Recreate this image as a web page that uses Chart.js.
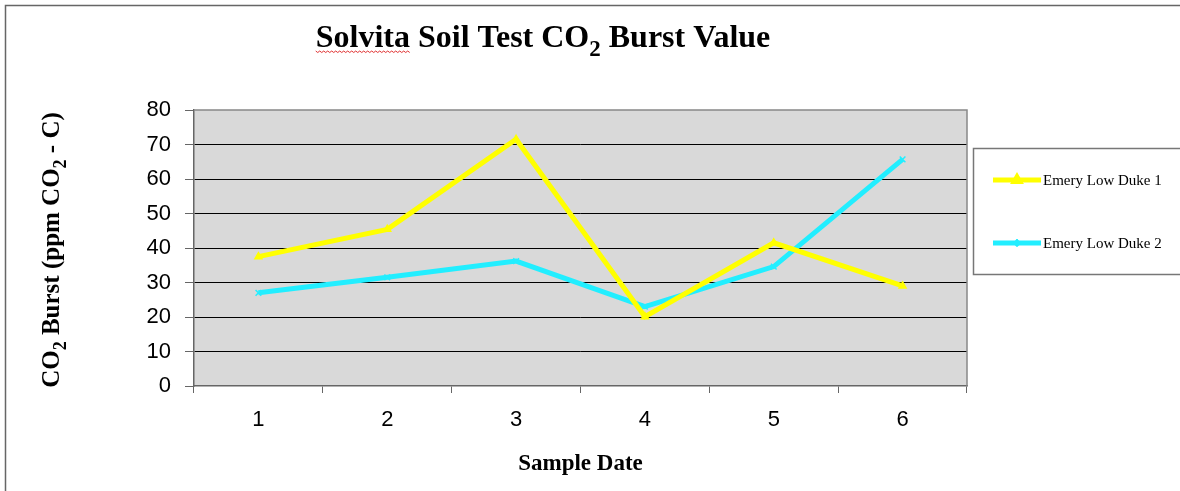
<!DOCTYPE html>
<html>
<head>
<meta charset="utf-8">
<script src="https://cdn.jsdelivr.net/npm/chart.js@4/dist/chart.umd.min.js"></script>
<style>
html,body{margin:0;padding:0;background:#fff;}
#wrap{position:relative;width:1180px;height:491px;}
</style>
</head>
<body>
<div id="wrap"><canvas id="c" width="1180" height="491"></canvas></div>
<script>
const categories = ['1', '2', '3', '4', '5', '6'];
const duke1 = [37.5, 45.4, 71.5, 20.1, 41.5, 29.0];
const duke2 = [27.0, 31.5, 36.2, 23.0, 34.6, 65.7];
const yTicks = [0, 10, 20, 30, 40, 50, 60, 70, 80];
const seriesNames = ['Emery Low Duke 1', 'Emery Low Duke 2'];
const titleParts = [['Solvita Soil Test CO', false], ['2', true], [' Burst Value', false]];
const yTitleParts = [['CO', false], ['2', true], [' Burst (ppm CO', false], ['2', true], [' - C)', false]];
const xTitle = 'Sample Date';

const SERIF = '"Liberation Serif", "Times New Roman", serif';
const SANS = '"Liberation Sans", Arial, sans-serif';
const YELLOW = '#ffff00';
const CYAN = '#22eeff';

function richWidth(ctx, parts, size) {
  let w = 0;
  for (const [t, sub] of parts) {
    ctx.font = 'bold ' + (sub ? Math.round(size * 0.72) : size) + 'px ' + SERIF;
    w += ctx.measureText(t).width;
  }
  return w;
}
function drawRich(ctx, parts, size, x, y) {
  let cx = x;
  for (const [t, sub] of parts) {
    ctx.font = 'bold ' + (sub ? Math.round(size * 0.72) : size) + 'px ' + SERIF;
    ctx.fillText(t, cx, sub ? y + size * 0.28 : y);
    cx += ctx.measureText(t).width;
  }
}

const decor = {
  id: 'decor',
  beforeDraw(chart) {
    const ctx = chart.ctx;
    const a = chart.chartArea;
    ctx.save();
    ctx.fillStyle = '#fff';
    ctx.fillRect(0, 0, chart.width, chart.height);
    ctx.strokeStyle = '#666';
    ctx.lineWidth = 1.5;
    ctx.strokeRect(5.5, 5.5, chart.width + 20, chart.height + 20);
    ctx.fillStyle = '#d9d9d9';
    ctx.fillRect(a.left, a.top, a.right - a.left, a.bottom - a.top);
    ctx.restore();
  },
  afterDraw(chart) {
    const ctx = chart.ctx;
    const a = chart.chartArea;
    ctx.save();
    ctx.fillStyle = '#000';
    ctx.textBaseline = 'alphabetic';
    ctx.textAlign = 'left';
    // title
    const ts = 32;
    const tw = richWidth(ctx, titleParts, ts);
    const tx = 543 - tw / 2;
    drawRich(ctx, titleParts, ts, tx, 47);
    ctx.font = 'bold ' + ts + 'px ' + SERIF;
    const sw = ctx.measureText('Solvita').width;
    ctx.strokeStyle = '#e03030';
    ctx.lineWidth = 1;
    ctx.beginPath();
    for (let x = 0; x <= sw; x += 2) {
      const y = 51 + ((x / 2) % 2 === 0 ? 0 : 1.5);
      if (x === 0) ctx.moveTo(tx + x, y); else ctx.lineTo(tx + x, y);
    }
    ctx.stroke();
    // y title
    const ys = 25;
    const yw = richWidth(ctx, yTitleParts, ys);
    ctx.save();
    ctx.translate(59, 250);
    ctx.rotate(-Math.PI / 2);
    drawRich(ctx, yTitleParts, ys, -yw / 2, 0);
    ctx.restore();
    // x title
    ctx.font = 'bold 23px ' + SERIF;
    ctx.textAlign = 'center';
    ctx.fillText(xTitle, (a.left + a.right) / 2, 470);
    // plot border
    ctx.strokeStyle = '#888';
    ctx.lineWidth = 1.5;
    ctx.beginPath();
    ctx.moveTo(a.left, a.top);
    ctx.lineTo(a.right, a.top);
    ctx.lineTo(a.right, a.bottom);
    ctx.stroke();
    // legend
    ctx.strokeStyle = '#777';
    ctx.lineWidth = 1.5;
    ctx.strokeRect(973.5, 148.5, 260, 126);
    const ys2 = [180, 243];
    chart.data.datasets.forEach((ds, i) => {
      const y = ys2[i];
      ctx.strokeStyle = ds.borderColor;
      ctx.lineWidth = 5;
      ctx.lineCap = 'butt';
      ctx.beginPath();
      ctx.moveTo(993, y);
      ctx.lineTo(1041, y);
      ctx.stroke();
      ctx.fillStyle = ds.borderColor;
      Chart.helpers.drawPoint(ctx, {pointStyle: ds.pointStyle, radius: 3, borderWidth: 1}, 1017, y);
      ctx.fillStyle = '#000';
      ctx.font = '15px ' + SERIF;
      ctx.textAlign = 'left';
      ctx.textBaseline = 'middle';
      ctx.fillText(ds.label, 1043, y + 1);
    });
    ctx.restore();
  }
};

new Chart(document.getElementById('c'), {
  type: 'line',
  data: {
    labels: categories,
    datasets: [
      { label: seriesNames[0], data: duke1, borderColor: YELLOW, backgroundColor: YELLOW,
        borderWidth: 5, pointStyle: 'triangle', pointRadius: 4, pointBorderWidth: 1.5,
        pointBackgroundColor: YELLOW, pointBorderColor: YELLOW, tension: 0 },
      { label: seriesNames[1], data: duke2, borderColor: CYAN, backgroundColor: CYAN,
        borderWidth: 5, pointStyle: 'crossRot', pointRadius: 4, pointBorderWidth: 1.5,
        pointBackgroundColor: CYAN, pointBorderColor: CYAN, tension: 0 }
    ]
  },
  options: {
    responsive: false,
    animation: false,
    events: [],
    layout: { padding: { left: 0, top: 110, right: 213, bottom: 45 } },
    plugins: { legend: { display: false }, title: { display: false }, tooltip: { enabled: false } },
    scales: {
      x: {
        offset: true,
        afterFit(s) { s.height = 60; },
        grid: { offset: true, display: true, drawOnChartArea: false, drawTicks: true, tickLength: 7, tickColor: '#666', lineWidth: 1 },
        border: { display: true, color: '#666', width: 1.5 },
        ticks: { color: '#000', font: { family: SANS, size: 22 }, padding: 14, maxRotation: 0, autoSkip: false }
      },
      y: {
        min: 0, max: 80,
        afterFit(s) { s.width = 194; },
        afterBuildTicks(s) { s.ticks = yTicks.map(v => ({ value: v })); },
        grid: {
          color: ctx => (ctx.tick && (ctx.tick.value === 0 || ctx.tick.value === 80)) ? 'rgba(0,0,0,0)' : '#000',
          lineWidth: 1, drawTicks: true, tickLength: 9, tickColor: '#666'
        },
        border: { display: true, color: '#666', width: 1.5 },
        ticks: { color: '#000', font: { family: SANS, size: 22 }, padding: 14 }
      }
    }
  },
  plugins: [decor]
});
</script>
</body>
</html>
